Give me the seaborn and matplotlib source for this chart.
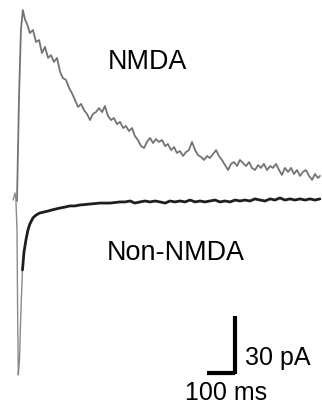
import numpy as np
import pandas as pd
import matplotlib
matplotlib.use("Agg")
import matplotlib.pyplot as plt
import seaborn as sns

# NMDA component (ms, pA) - drawn upward, gray and noisy
nmda_t = [0, 7, 14, 21, 29, 36, 46, 57, 68, 79, 89, 100, 111, 121, 132, 143, 154,
          164, 175, 186, 196, 207, 218, 229, 239, 250, 261, 271, 282, 293, 304, 314,
          325, 336, 346, 357, 368, 379, 389, 400, 411, 421, 432, 443, 454, 464, 475,
          486, 496, 507, 518, 529, 539, 550, 561, 571, 582, 593, 604, 614, 625, 636,
          646, 657, 668, 679, 689, 700, 711, 721, 732, 743, 754, 764, 775, 786, 796,
          807, 818, 829, 839, 850, 861, 871, 882, 893, 904, 914, 925, 936, 946, 957,
          968, 979, 989, 1000, 1011, 1021, 1032, 1043, 1054, 1064, 1075, 1082]
nmda_pA = [0, 53.2, 90.0, 100.5, 95.3, 93.2, 88.4, 90.0, 83.7, 84.7, 77.9, 81.1,
           75.3, 76.8, 73.2, 75.3, 67.9, 64.7, 63.7, 59.5, 56.8, 53.2, 49.5, 51.1,
           47.9, 45.8, 42.6, 45.8, 46.8, 48.9, 46.8, 50.0, 44.7, 42.6, 43.7, 40.5,
           41.6, 38.4, 39.5, 36.8, 38.4, 34.2, 32.1, 28.9, 27.9, 31.1, 33.2, 30.5,
           32.6, 31.1, 32.1, 28.9, 30.0, 26.8, 28.4, 25.3, 26.3, 23.7, 25.8, 26.8,
           31.1, 26.8, 24.2, 23.2, 21.6, 23.7, 22.6, 24.7, 26.8, 23.7, 21.6, 18.9,
           16.3, 19.5, 20.5, 18.4, 21.6, 20.0, 18.4, 20.5, 17.4, 16.3, 18.9, 17.4,
           19.5, 16.3, 18.4, 17.4, 19.5, 16.3, 13.7, 17.4, 15.3, 17.4, 14.2, 16.3,
           13.2, 15.3, 16.3, 13.2, 11.1, 14.2, 12.1, 13.2]

# Non-NMDA component (ms, pA) - fast inward peak then slow return
non_t = [-14, -7, -4, 0, 2.5, 4.6, 8.9, 12.5, 16.1, 19.6, 25, 32, 39, 46, 57, 68,
         82, 96, 111, 125, 139, 154, 171, 189, 207, 225, 261, 296, 332, 368, 386,
         404, 421, 439, 457, 475, 493, 511, 529, 546, 564, 582, 600, 618, 636, 654,
         671, 689, 707, 725, 743, 761, 779, 796, 814, 832, 850, 868, 886, 904, 921,
         939, 957, 975, 993, 1011, 1029, 1046, 1064, 1082]
non_pA = [0.5, 4.2, 1.1, -15.3, -62.6, -91.6, -83.7, -65.3, -49.5, -36.3, -26.8,
          -20.5, -15.3, -12.1, -8.9, -7.4, -6.3, -5.8, -5.3, -4.7, -4.2, -3.7, -3.2,
          -2.6, -2.6, -2.1, -1.6, -1.1, -1.1, -0.5, -0.5, 0, -1.1, -0.5, 0, -0.5, 0,
          -0.5, -1.1, 0, -0.5, 0, -0.5, 0.5, -0.5, 0, -0.5, 0, 0.5, -0.5, 0, -0.5,
          0.5, 0, 0.5, 0, 1.1, 0.5, 0, 1.1, 0.5, 1.6, 0.5, 1.1, 0.5, 1.1, 0.5, 1.1,
          0.5, 1.1]

labels = ["NMDA", "Non-NMDA"]
scale_ms = 100
scale_pA = 30

sns.set_theme(style="white")
plt.rcParams['font.family'] = ['Liberation Sans', 'DejaVu Sans']

fig = plt.figure(figsize=(3.22, 4.09), dpi=100)
ax = fig.add_axes([0, 0, 1, 1])

nmda = pd.DataFrame({"t": nmda_t, "i": nmda_pA})
non = pd.DataFrame({"t": non_t, "i": non_pA})
fast = non.iloc[:10]
slow = non.iloc[9:]

sns.lineplot(data=nmda, x="t", y="i", ax=ax, sort=False, estimator=None,
             color="#737373", lw=1.3)
sns.lineplot(data=fast, x="t", y="i", ax=ax, sort=False, estimator=None,
             color="#8a8a8a", lw=1.0)
sns.lineplot(data=slow, x="t", y="i", ax=ax, sort=False, estimator=None,
             color="#1e1e1e", lw=2.0)

# labels
ax.text(325, 69.5, labels[0], fontsize=19.4, ha="left", va="baseline", color="black")
ax.text(321, -31.1, labels[1], fontsize=19.4, ha="left", va="baseline", color="black")

# scale bar
cx, cy = 778.6, -90.5
ax.plot([cx - scale_ms, cx], [cy, cy], color="black", lw=3, solid_capstyle="butt")
ax.plot([cx, cx], [cy - 0.8, cy + scale_pA], color="black", lw=3, solid_capstyle="butt")
ax.text(814, -86.3, f"{scale_pA} pA", fontsize=18, ha="left", va="baseline", color="black")
ax.text(600, -104.7, f"{scale_ms} ms", fontsize=18, ha="left", va="baseline", color="black")

ax.set_xlim(-60.7, 1089.3)
ax.set_ylim(-109.5, 105.8)
ax.axis("off")

fig.savefig("out.png", dpi=100)
